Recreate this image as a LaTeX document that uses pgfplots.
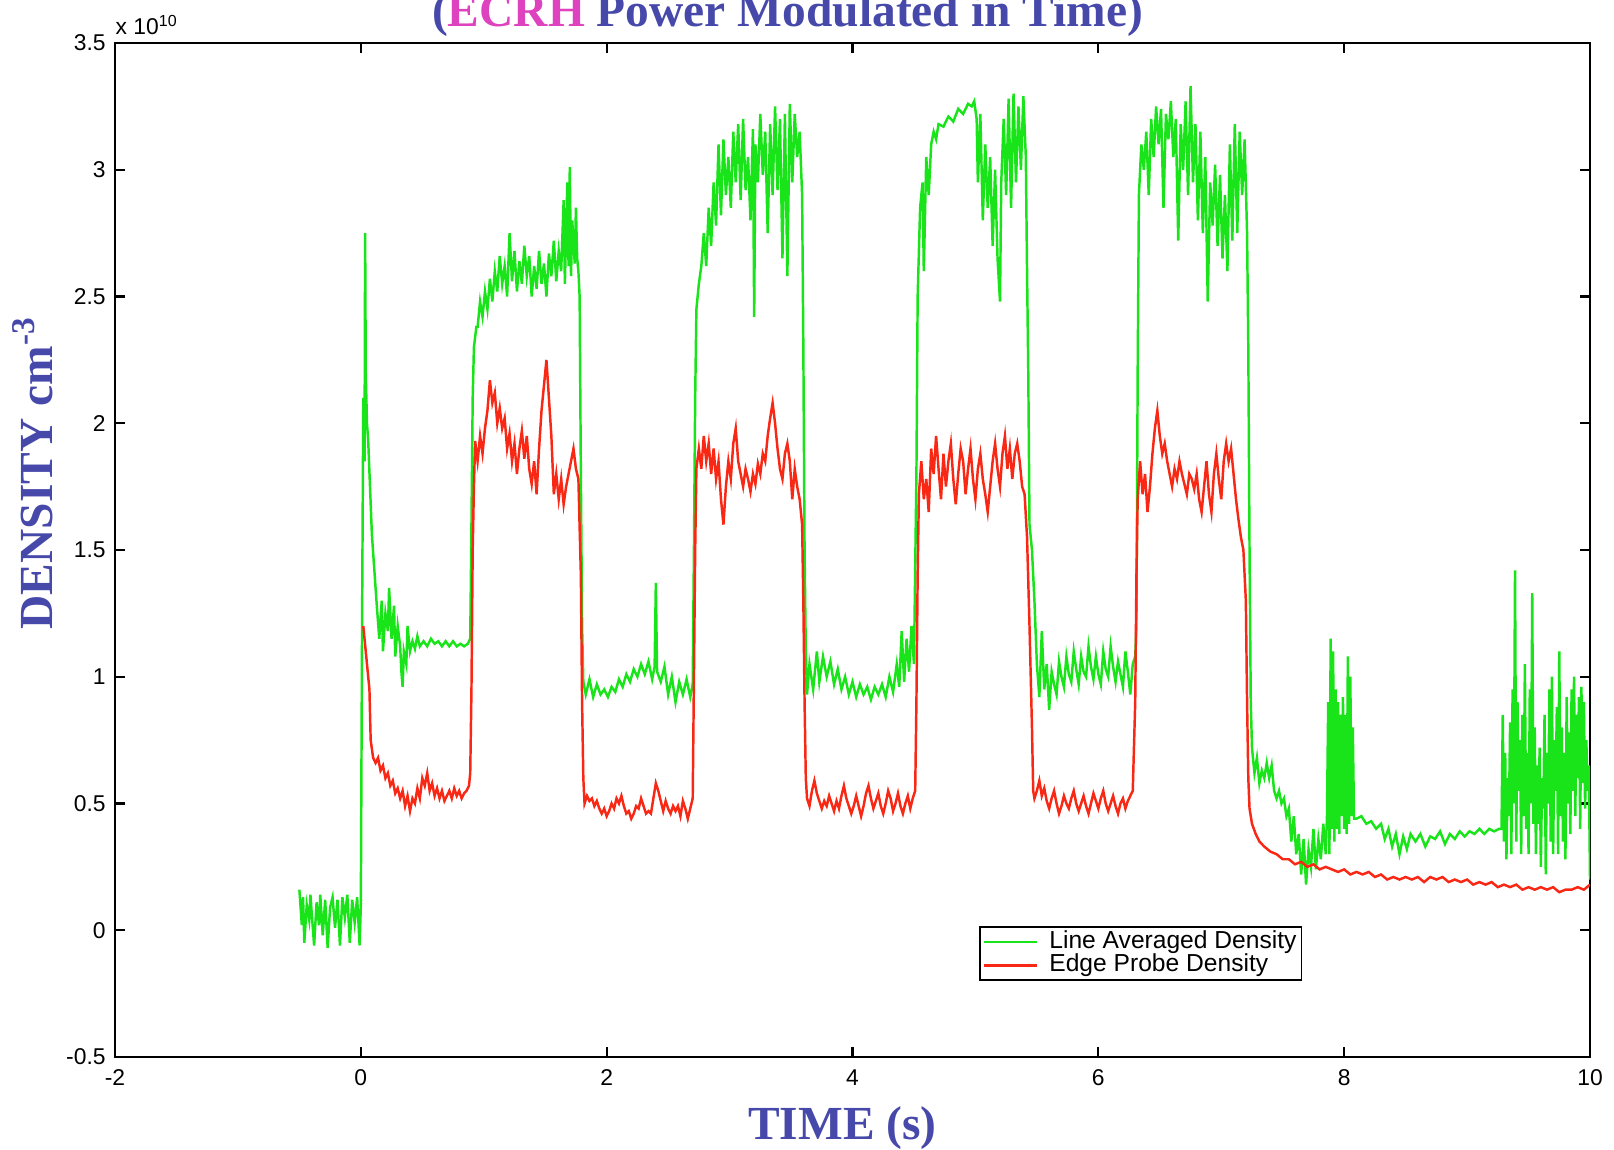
\documentclass[border=0pt]{standalone}
\usepackage{pgfplots}
\pgfplotsset{compat=1.18}
\usepackage{fontspec}
\setmainfont{Liberation Serif}
\newfontfamily\arialfont{Liberation Sans}
\definecolor{lgreen}{RGB}{25,228,25}
\definecolor{lred}{RGB}{248,40,20}
\definecolor{tblue}{RGB}{70,72,170}
\definecolor{ecrh}{RGB}{222,66,190}
\begin{document}
\begin{tikzpicture}
\begin{axis}[
  scale only axis, width=147.5mm, height=101.4mm,
  xmin=-2, xmax=10, ymin=-0.5, ymax=3.5,
  xtick={-2,0,...,10}, ytick={-0.5,0,...,3.5},
  tick align=inside, major tick length=1mm,
  xtick pos=both, ytick pos=both,
  axis line style={line width=0.6pt}, every tick/.style={line width=0.6pt},
  tick label style={font=\arialfont\fontsize{6.5}{7}\selectfont},
  /pgf/number format/assume math mode=true,
  yticklabel style={xshift=0.3mm},
  clip mode=individual,
  legend style={at={(0.805,0.075)}, anchor=south east, draw=black, line width=0.5pt,
    font=\arialfont\fontsize{7}{7.5}\selectfont, inner sep=0.3mm, row sep=0pt,
    nodes={inner sep=0.2mm, text height=1.6mm, text depth=0.35mm},
    cells={anchor=west}, /tikz/every odd column/.style={column sep=0.9mm}},
  legend image code/.code={\draw[#1] (0mm,0mm) -- (5.3mm,0mm);},
]
% line averaged density (x 10^10 cm^-3)
\addplot[lgreen, line width=0.7pt] coordinates {
(-0.50,0.16)(-0.48,0.02)(-0.47,0.13)(-0.46,-0.05)(-0.44,0.10)(-0.42,0.04)(-0.41,0.14)(-0.40,0.07)(-0.38,-0.06)(-0.36,0.11)
(-0.34,0.02)(-0.33,0.14)(-0.31,-0.02)(-0.29,0.12)(-0.27,-0.07)(-0.25,0.09)(-0.23,0.13)(-0.21,0.01)(-0.19,0.12)(-0.17,-0.06)
(-0.15,0.13)(-0.13,0.05)(-0.11,0.14)(-0.09,-0.05)(-0.07,0.12)(-0.05,0.03)(-0.03,0.13)(-0.01,-0.06)(0.00,0.10)
(0.01,1.20)(0.02,2.10)(0.03,1.85)(0.035,2.75)(0.04,2.20)(0.05,2.00)(0.06,1.93)(0.09,1.56)(0.13,1.28)(0.15,1.15)
(0.17,1.30)(0.18,1.10)(0.20,1.25)(0.22,1.18)(0.23,1.35)(0.25,1.15)(0.27,1.28)(0.28,1.08)(0.30,1.20)(0.32,1.12)
(0.33,1.02)(0.34,0.96)(0.35,1.10)(0.37,1.05)(0.38,1.20)(0.40,1.10)(0.42,1.14)(0.44,1.11)(0.46,1.16)(0.48,1.12)
(0.51,1.14)(0.54,1.12)(0.57,1.15)(0.60,1.13)(0.63,1.14)(0.66,1.12)(0.69,1.14)(0.72,1.12)(0.75,1.14)(0.78,1.12)
(0.81,1.13)(0.84,1.12)(0.87,1.13)(0.89,1.15)(0.90,1.60)(0.91,2.10)(0.92,2.30)(0.94,2.38)
(0.95,2.38)(0.97,2.48)(0.99,2.42)(1.01,2.52)(1.03,2.45)(1.05,2.57)(1.07,2.48)(1.09,2.60)(1.11,2.52)(1.13,2.66)
(1.15,2.55)(1.17,2.62)(1.19,2.50)(1.21,2.75)(1.23,2.56)(1.25,2.68)(1.27,2.52)(1.29,2.64)(1.31,2.55)(1.33,2.70)
(1.35,2.58)(1.37,2.66)(1.39,2.50)(1.41,2.62)(1.43,2.53)(1.45,2.68)(1.47,2.55)(1.49,2.63)(1.51,2.50)(1.53,2.67)
(1.55,2.58)(1.57,2.72)(1.59,2.56)(1.61,2.68)(1.63,2.60)(1.65,2.88)(1.66,2.55)(1.68,2.95)(1.69,2.62)(1.70,3.01)
(1.71,2.58)(1.72,2.80)(1.74,2.63)(1.75,2.85)(1.76,2.65)(1.77,2.60)(1.78,2.50)(1.79,1.80)(1.80,1.20)(1.81,0.98)
(1.83,0.93)(1.86,0.99)(1.89,0.92)(1.92,0.97)(1.95,0.93)(1.98,0.95)(2.01,0.92)(2.04,0.96)(2.07,0.94)(2.10,0.99)
(2.13,0.96)(2.16,1.01)(2.19,0.98)(2.22,1.03)(2.25,1.00)(2.28,1.05)(2.31,1.01)(2.34,1.06)(2.37,0.99)(2.39,1.04)
(2.40,1.37)(2.41,1.02)(2.44,0.98)(2.47,1.04)(2.50,0.93)(2.53,1.00)(2.56,0.90)(2.59,0.98)(2.62,0.93)(2.65,0.99)
(2.68,0.92)(2.70,0.97)(2.71,1.50)(2.72,2.10)(2.73,2.45)(2.75,2.55)
(2.77,2.62)(2.79,2.75)(2.81,2.62)(2.83,2.85)(2.85,2.70)(2.87,2.95)(2.89,2.78)(2.91,3.10)(2.93,2.82)(2.95,3.12)
(2.97,2.90)(2.99,3.05)(3.01,2.85)(3.03,3.15)(3.05,2.95)(3.07,3.18)(3.09,2.88)(3.11,3.20)(3.13,2.92)(3.15,3.05)
(3.17,2.80)(3.19,3.16)(3.20,2.42)(3.21,3.10)(3.23,2.95)(3.25,3.22)(3.27,2.98)(3.29,3.15)(3.31,2.75)(3.33,3.18)
(3.35,2.90)(3.37,3.25)(3.39,2.92)(3.41,3.20)(3.43,2.65)(3.45,3.22)(3.47,2.58)(3.49,3.26)(3.51,2.95)(3.53,3.22)
(3.55,3.05)(3.57,3.15)(3.59,2.90)(3.60,2.30)(3.61,1.50)(3.62,1.10)(3.63,0.93)
(3.65,1.05)(3.68,0.95)(3.71,1.10)(3.73,0.98)(3.76,1.08)(3.79,1.00)(3.82,1.06)(3.85,0.97)(3.88,1.03)(3.91,0.95)
(3.94,1.00)(3.97,0.93)(4.00,0.98)(4.03,0.92)(4.06,0.97)(4.09,0.93)(4.12,0.96)(4.15,0.91)(4.18,0.96)(4.21,0.93)
(4.24,0.97)(4.27,0.92)(4.30,1.00)(4.33,0.94)(4.36,1.05)(4.38,0.96)(4.40,1.18)(4.42,0.98)(4.44,1.15)(4.46,1.02)
(4.48,1.20)(4.50,1.05)(4.52,1.80)(4.53,2.50)(4.55,2.85)(4.57,2.95)(4.58,2.60)(4.60,3.05)(4.62,2.90)(4.64,3.10)
(4.66,3.15)(4.68,3.12)(4.70,3.18)(4.74,3.17)(4.78,3.21)(4.82,3.19)(4.86,3.24)(4.90,3.22)(4.94,3.26)(4.97,3.25)
(4.99,3.27)(5.01,3.20)(5.02,2.95)(5.04,3.22)(5.06,2.80)(5.08,3.10)(5.10,2.85)(5.12,3.05)(5.14,2.70)(5.16,3.00)
(5.18,2.65)(5.20,2.48)(5.21,2.95)(5.23,3.20)(5.25,2.90)(5.27,3.28)(5.29,2.85)(5.31,3.30)(5.33,2.95)(5.35,3.25)
(5.37,3.00)(5.39,3.29)(5.41,3.05)(5.42,2.60)(5.43,2.20)(5.44,1.60)(5.46,1.50)(5.48,1.30)(5.50,1.05)
(5.52,0.92)(5.54,1.18)(5.56,0.95)(5.58,1.05)(5.60,0.87)(5.62,1.02)(5.64,0.97)(5.66,0.93)(5.68,1.06)(5.70,1.00)
(5.72,0.96)(5.74,1.08)(5.76,1.01)(5.78,0.98)(5.80,1.10)(5.82,1.03)(5.84,0.97)(5.86,1.08)(5.88,1.02)(5.90,1.00)
(5.92,1.12)(5.94,1.04)(5.96,0.99)(5.98,1.08)(6.00,1.01)(6.02,0.97)(6.04,1.10)(6.06,1.03)(6.08,1.00)(6.10,1.12)
(6.12,1.04)(6.14,0.98)(6.16,1.06)(6.18,1.01)(6.20,0.96)(6.22,1.10)(6.24,1.02)(6.26,0.93)(6.28,1.05)(6.30,1.08)
(6.31,1.20)(6.32,2.20)
(6.33,2.90)(6.35,3.10)(6.37,3.00)(6.39,3.15)(6.41,2.90)(6.43,3.20)(6.45,3.05)(6.47,3.25)(6.49,3.10)(6.51,3.24)
(6.53,2.85)(6.55,3.22)(6.57,3.12)(6.59,3.27)(6.61,3.05)(6.63,3.20)(6.65,2.72)(6.67,3.18)(6.69,3.00)(6.71,3.27)
(6.73,2.90)(6.75,3.33)(6.77,2.95)(6.79,3.18)(6.81,2.80)(6.83,3.15)(6.85,2.75)(6.87,3.05)(6.89,2.48)(6.91,2.95)
(6.93,2.78)(6.95,3.02)(6.97,2.70)(6.99,2.98)(7.01,2.65)(7.03,2.90)(7.05,2.60)(7.07,3.10)(7.09,2.72)(7.11,3.18)
(7.13,2.75)(7.15,3.15)(7.17,2.90)(7.19,3.12)(7.21,2.75)(7.22,2.30)(7.23,1.50)(7.24,0.90)(7.25,0.72)
(7.27,0.62)(7.29,0.68)(7.31,0.58)(7.33,0.63)(7.35,0.60)(7.37,0.66)(7.39,0.60)(7.41,0.65)(7.43,0.55)(7.45,0.52)
(7.47,0.55)(7.49,0.50)(7.51,0.52)(7.53,0.45)(7.55,0.48)(7.57,0.35)(7.59,0.45)(7.61,0.30)(7.63,0.38)(7.65,0.22)
(7.67,0.36)(7.69,0.18)(7.71,0.32)(7.73,0.25)(7.75,0.40)(7.77,0.24)(7.79,0.36)(7.81,0.28)(7.83,0.42)(7.85,0.30)
(7.86,0.45)(7.87,0.90)(7.88,0.30)(7.89,1.15)(7.90,0.40)(7.91,1.10)(7.92,0.35)(7.93,0.95)(7.94,0.40)(7.95,0.90)
(7.96,0.38)(7.97,0.85)(7.98,0.45)(7.99,0.92)(8.00,0.40)(8.01,0.85)(8.02,0.38)(8.03,1.08)(8.04,0.42)(8.05,1.00)
(8.06,0.45)(8.07,0.80)(8.08,0.44)(8.10,0.44)(8.14,0.45)(8.18,0.42)(8.22,0.43)(8.26,0.40)(8.30,0.42)(8.33,0.36)
(8.36,0.40)(8.39,0.33)(8.42,0.38)(8.45,0.30)(8.48,0.37)(8.51,0.32)(8.54,0.38)(8.58,0.35)(8.62,0.38)(8.66,0.33)
(8.70,0.37)(8.74,0.36)(8.78,0.39)(8.82,0.34)(8.86,0.38)(8.90,0.36)(8.94,0.39)(8.98,0.37)(9.02,0.39)(9.06,0.38)
(9.10,0.40)(9.14,0.38)(9.18,0.40)(9.22,0.39)(9.26,0.40)(9.28,0.40)(9.29,0.85)(9.30,0.35)(9.31,0.70)(9.32,0.28)
(9.33,0.60)(9.34,0.45)(9.35,0.82)(9.36,0.30)(9.37,0.95)(9.38,0.50)(9.39,1.42)(9.40,0.35)(9.41,0.90)(9.42,0.55)
(9.43,0.75)(9.44,0.30)(9.45,0.85)(9.46,0.45)(9.47,1.05)(9.48,0.40)(9.49,0.70)(9.50,0.30)(9.51,0.95)(9.52,0.50)
(9.53,1.33)(9.54,0.42)(9.55,0.80)(9.56,0.30)(9.57,0.65)(9.58,0.42)(9.59,0.72)(9.60,0.25)(9.61,0.60)(9.62,0.48)
(9.63,0.85)(9.64,0.22)(9.65,0.70)(9.66,0.50)(9.67,0.95)(9.68,0.35)(9.69,1.00)(9.70,0.30)(9.71,0.75)(9.72,0.55)
(9.73,0.88)(9.74,0.30)(9.75,1.10)(9.76,0.45)(9.77,0.80)(9.78,0.35)(9.79,0.70)(9.80,0.28)(9.81,0.92)(9.82,0.50)
(9.83,0.78)(9.84,0.38)(9.85,0.95)(9.86,0.55)(9.87,1.00)(9.88,0.45)(9.89,0.85)(9.90,0.60)(9.91,0.92)(9.92,0.40)
(9.93,0.96)(9.94,0.58)(9.95,0.90)(9.96,0.48)(9.97,0.75)(9.98,0.55)(9.99,0.65)(10.00,0.20)
};
\addlegendentry{Line Averaged Density}
% edge probe density
\addplot[lred, line width=0.7pt] coordinates {
(0.02,1.20)(0.03,1.15)(0.05,1.05)(0.07,0.95)(0.08,0.75)(0.10,0.68)(0.12,0.66)(0.14,0.68)(0.16,0.63)(0.18,0.65)
(0.20,0.60)(0.22,0.62)(0.24,0.57)(0.26,0.59)(0.28,0.54)(0.30,0.56)(0.32,0.52)(0.34,0.55)(0.36,0.49)(0.38,0.53)
(0.40,0.47)(0.42,0.52)(0.44,0.50)(0.46,0.56)(0.48,0.52)(0.50,0.60)(0.52,0.57)(0.54,0.62)(0.56,0.55)(0.58,0.58)
(0.60,0.53)(0.62,0.56)(0.64,0.52)(0.66,0.55)(0.68,0.51)(0.70,0.53)(0.72,0.55)(0.74,0.52)(0.76,0.56)(0.78,0.53)
(0.80,0.55)(0.82,0.52)(0.84,0.54)(0.86,0.55)(0.88,0.57)(0.89,0.62)(0.90,0.95)(0.91,1.50)(0.92,1.75)(0.93,1.93)
(0.95,1.85)(0.97,1.95)(0.99,1.88)(1.01,1.98)(1.03,2.05)(1.05,2.17)(1.07,2.08)(1.09,2.12)(1.11,2.00)(1.13,2.06)
(1.15,1.98)(1.17,2.02)(1.19,1.90)(1.21,1.96)(1.23,1.85)(1.25,1.92)(1.27,1.80)(1.29,1.90)(1.31,1.97)(1.33,1.86)
(1.35,1.95)(1.37,1.82)(1.39,1.76)(1.41,1.85)(1.43,1.72)(1.45,1.90)(1.47,2.05)(1.49,2.15)(1.51,2.25)(1.53,2.10)
(1.55,1.95)(1.57,1.72)(1.59,1.80)(1.61,1.70)(1.63,1.78)(1.65,1.68)(1.67,1.75)(1.69,1.80)(1.71,1.85)(1.73,1.90)
(1.75,1.82)(1.77,1.78)(1.79,1.40)(1.80,0.90)(1.81,0.60)(1.82,0.50)
(1.84,0.53)(1.86,0.51)(1.88,0.52)(1.90,0.49)(1.92,0.51)(1.94,0.48)(1.96,0.46)(1.98,0.48)(2.00,0.45)(2.02,0.47)
(2.04,0.50)(2.06,0.48)(2.08,0.52)(2.10,0.50)(2.12,0.53)(2.14,0.49)(2.16,0.46)(2.18,0.47)(2.20,0.44)(2.22,0.46)
(2.24,0.49)(2.26,0.48)(2.28,0.52)(2.30,0.49)(2.32,0.46)(2.34,0.47)(2.36,0.46)(2.38,0.52)(2.40,0.58)(2.42,0.55)
(2.44,0.51)(2.46,0.47)(2.48,0.51)(2.50,0.48)(2.52,0.46)(2.54,0.49)(2.56,0.47)(2.58,0.49)(2.60,0.45)(2.62,0.51)
(2.64,0.48)(2.66,0.44)(2.68,0.48)(2.70,0.52)(2.71,1.00)(2.72,1.50)(2.73,1.82)(2.75,1.90)
(2.77,1.82)(2.79,1.95)(2.81,1.85)(2.83,1.92)(2.85,1.80)(2.87,1.90)(2.89,1.78)(2.91,1.85)(2.93,1.70)(2.95,1.60)
(2.97,1.75)(2.99,1.85)(3.01,1.78)(3.03,1.92)(3.05,1.98)(3.07,1.85)(3.09,1.80)(3.11,1.75)(3.13,1.82)(3.15,1.78)
(3.17,1.73)(3.19,1.80)(3.21,1.76)(3.23,1.84)(3.25,1.80)(3.27,1.88)(3.29,1.85)(3.31,1.95)(3.33,2.02)(3.35,2.08)
(3.37,2.00)(3.39,1.90)(3.41,1.82)(3.43,1.78)(3.45,1.88)(3.47,1.92)(3.49,1.85)(3.51,1.70)(3.53,1.82)(3.55,1.75)
(3.57,1.70)(3.59,1.60)(3.60,1.30)(3.61,0.90)(3.62,0.60)(3.63,0.52)
(3.65,0.49)(3.67,0.55)(3.69,0.59)(3.71,0.54)(3.73,0.51)(3.75,0.48)(3.77,0.51)(3.79,0.49)(3.81,0.53)(3.83,0.50)
(3.85,0.47)(3.87,0.51)(3.89,0.48)(3.91,0.53)(3.93,0.57)(3.95,0.52)(3.97,0.49)(3.99,0.46)(4.01,0.49)(4.03,0.53)
(4.05,0.49)(4.07,0.45)(4.09,0.49)(4.11,0.54)(4.13,0.57)(4.15,0.52)(4.17,0.48)(4.19,0.51)(4.21,0.54)(4.23,0.49)
(4.25,0.46)(4.27,0.50)(4.29,0.55)(4.31,0.52)(4.33,0.47)(4.35,0.50)(4.37,0.54)(4.39,0.49)(4.41,0.46)(4.43,0.50)
(4.45,0.53)(4.47,0.48)(4.49,0.52)(4.51,0.55)(4.52,0.90)(4.53,1.40)(4.54,1.72)(4.56,1.85)
(4.58,1.70)(4.60,1.78)(4.62,1.65)(4.64,1.90)(4.66,1.80)(4.68,1.95)(4.70,1.82)(4.72,1.70)(4.74,1.88)(4.76,1.75)
(4.78,1.85)(4.80,1.92)(4.82,1.78)(4.84,1.68)(4.86,1.80)(4.88,1.90)(4.90,1.85)(4.92,1.72)(4.94,1.82)(4.96,1.90)
(4.98,1.78)(5.00,1.70)(5.02,1.82)(5.04,1.88)(5.06,1.78)(5.08,1.72)(5.10,1.65)(5.12,1.75)(5.14,1.85)(5.16,1.92)
(5.18,1.82)(5.20,1.75)(5.22,1.88)(5.24,1.95)(5.26,1.82)(5.28,1.90)(5.30,1.78)(5.32,1.88)(5.34,1.92)(5.36,1.85)
(5.38,1.75)(5.40,1.72)(5.42,1.55)(5.44,1.20)(5.46,0.80)(5.47,0.55)
(5.48,0.52)(5.50,0.55)(5.52,0.59)(5.54,0.53)(5.56,0.56)(5.58,0.51)(5.60,0.48)(5.62,0.52)(5.64,0.55)(5.66,0.50)
(5.68,0.46)(5.70,0.49)(5.72,0.53)(5.74,0.50)(5.76,0.48)(5.78,0.52)(5.80,0.55)(5.82,0.50)(5.84,0.47)(5.86,0.50)
(5.88,0.53)(5.90,0.49)(5.92,0.46)(5.94,0.50)(5.96,0.54)(5.98,0.51)(6.00,0.48)(6.02,0.52)(6.04,0.55)(6.06,0.50)
(6.08,0.47)(6.10,0.50)(6.12,0.53)(6.14,0.49)(6.16,0.46)(6.18,0.50)(6.20,0.52)(6.22,0.48)(6.24,0.51)(6.26,0.53)
(6.28,0.55)(6.30,0.90)(6.31,1.40)(6.32,1.70)(6.34,1.85)
(6.36,1.72)(6.38,1.80)(6.40,1.65)(6.42,1.75)(6.44,1.88)(6.46,1.98)(6.48,2.05)(6.50,1.95)(6.52,1.88)(6.54,1.92)
(6.56,1.85)(6.58,1.80)(6.60,1.75)(6.62,1.82)(6.64,1.78)(6.66,1.85)(6.68,1.80)(6.70,1.76)(6.72,1.72)(6.74,1.80)
(6.76,1.78)(6.78,1.74)(6.80,1.80)(6.82,1.70)(6.84,1.65)(6.86,1.75)(6.88,1.85)(6.90,1.72)(6.92,1.65)(6.94,1.80)
(6.96,1.88)(6.98,1.78)(7.00,1.70)(7.02,1.85)(7.04,1.92)(7.06,1.85)(7.08,1.90)(7.10,1.80)(7.12,1.70)(7.14,1.62)
(7.16,1.55)(7.18,1.50)(7.20,1.30)(7.21,0.90)(7.22,0.60)(7.23,0.48)
(7.25,0.42)(7.28,0.38)(7.31,0.35)(7.35,0.33)(7.40,0.31)(7.45,0.30)(7.50,0.28)(7.55,0.28)(7.60,0.26)(7.65,0.27)
(7.70,0.25)(7.75,0.26)(7.80,0.24)(7.85,0.25)(7.90,0.24)(7.95,0.23)(8.00,0.24)(8.05,0.22)(8.10,0.23)(8.15,0.22)
(8.20,0.23)(8.25,0.21)(8.30,0.22)(8.35,0.20)(8.40,0.21)(8.45,0.20)(8.50,0.21)(8.55,0.20)(8.60,0.21)(8.65,0.19)
(8.70,0.21)(8.75,0.20)(8.80,0.21)(8.85,0.19)(8.90,0.20)(8.95,0.19)(9.00,0.20)(9.05,0.18)(9.10,0.19)(9.15,0.18)
(9.20,0.19)(9.25,0.17)(9.30,0.18)(9.35,0.17)(9.40,0.18)(9.45,0.16)(9.50,0.17)(9.55,0.16)(9.60,0.17)(9.65,0.16)
(9.70,0.17)(9.75,0.15)(9.80,0.16)(9.85,0.16)(9.90,0.17)(9.95,0.16)(10.00,0.18)
};
\addlegendentry{Edge Probe Density}
\coordinate (bl) at (rel axis cs:0,0);
\coordinate (tr) at (rel axis cs:1,1);
\node[anchor=base west, inner sep=0pt, font=\arialfont\fontsize{6.5}{7}\selectfont]
  at ([yshift=0.8mm]rel axis cs:0,1) {x 10\textsuperscript{10}};
\node[anchor=base, inner sep=0pt, font=\bfseries\fontsize{13.5}{15}\selectfont, text=tblue]
  at ([xshift=-6.5mm,yshift=1.6mm]rel axis cs:0.5,1) {({\color{ecrh}ECRH} Power Modulated in Time)};
\node[anchor=base, inner sep=0pt, font=\bfseries\fontsize{13.5}{15}\selectfont, text=tblue]
  at ([xshift=-1mm,yshift=-8.3mm]rel axis cs:0.5,0) {TIME (s)};
\node[rotate=90, inner sep=0pt, font=\bfseries\fontsize{13.5}{15}\selectfont, text=tblue]
  at ([xshift=-8.2mm]rel axis cs:0,0.576) {DENSITY cm\textsuperscript{-3}};
\end{axis}
\pgfresetboundingbox
\useasboundingbox ([shift={(-11.5mm,-9.3mm)}]bl) rectangle ([shift={(2.4mm,4.3mm)}]tr);
\end{tikzpicture}
\end{document}
